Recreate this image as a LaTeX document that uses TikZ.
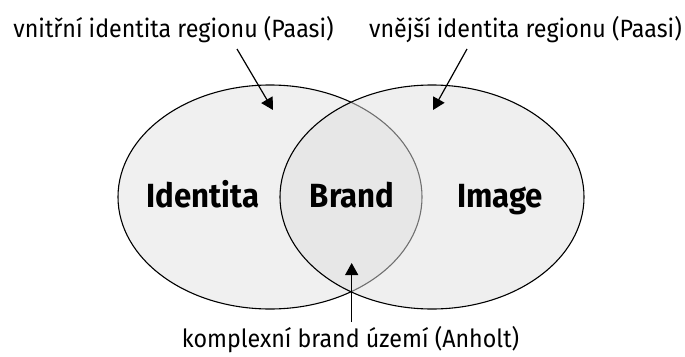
\documentclass[tikz,border=0pt]{standalone}
\usepackage{fontspec}
\setmainfont{Fira Sans}[FakeStretch=0.93]
\usepackage{tikz}
\usetikzlibrary{shapes.geometric, arrows.meta, positioning}
\tikzset{
	region/.style={
		draw,
		ellipse,
		line width=1.1pt,
		inner sep=0pt,
		minimum width=304pt,
		minimum height=224pt
	},
	term/.style={
		font=\bfseries\fontsize{33.5}{38}\selectfont,
		inner sep=0pt
	},
	note/.style={
		font=\fontsize{25}{29}\selectfont,
		inner sep=0pt
	},
	pointer/.style={
		line width=1.2pt,
		-{Triangle[length=12pt,width=13pt]}
	}
}

\begin{document}
\begin{tikzpicture}[x=1pt, y=-1pt]
	\useasboundingbox (0,0) rectangle (685,356);

	% the two regions
	\node[region, fill=gray!12] (identita) at (270,197) {};
	\node[region, fill=gray!24, fill opacity=0.5] (image) at (432,197) {};

	% region names
	\node[term, anchor=base] (identitalbl) at (203,207) {Identita};
	\node[term, anchor=base] (brandlbl) at (352,207) {Brand};
	\node[term, anchor=base] (imagelbl) at (500,207) {Image};

	% descriptions
	\node[note, anchor=base] (vnitrni) at (173.5,37) {vnitřní identita regionu (Paasi)};
	\node[note, anchor=base east] (vnejsi) at (682,37) {vnější identita regionu (Paasi)};
	\node[note, anchor=base] (komplex) at (350.5,347) {komplexní brand území (Anholt)};

	% pointers
	\coordinate (vnitrnistart) at (237,49);
	\coordinate (vnitrnitip) at (273,110);
	\coordinate (vnejsistart) at (467,49);
	\coordinate (vnejsitip) at (433,110);
	\coordinate (komplexstart) at (351.7,322);
	\coordinate (komplextip) at (351.7,263);
	\draw[pointer] (vnitrnistart) -- (vnitrnitip);
	\draw[pointer] (vnejsistart) -- (vnejsitip);
	\draw[pointer] (komplexstart) -- (komplextip);
\end{tikzpicture}
\end{document}
